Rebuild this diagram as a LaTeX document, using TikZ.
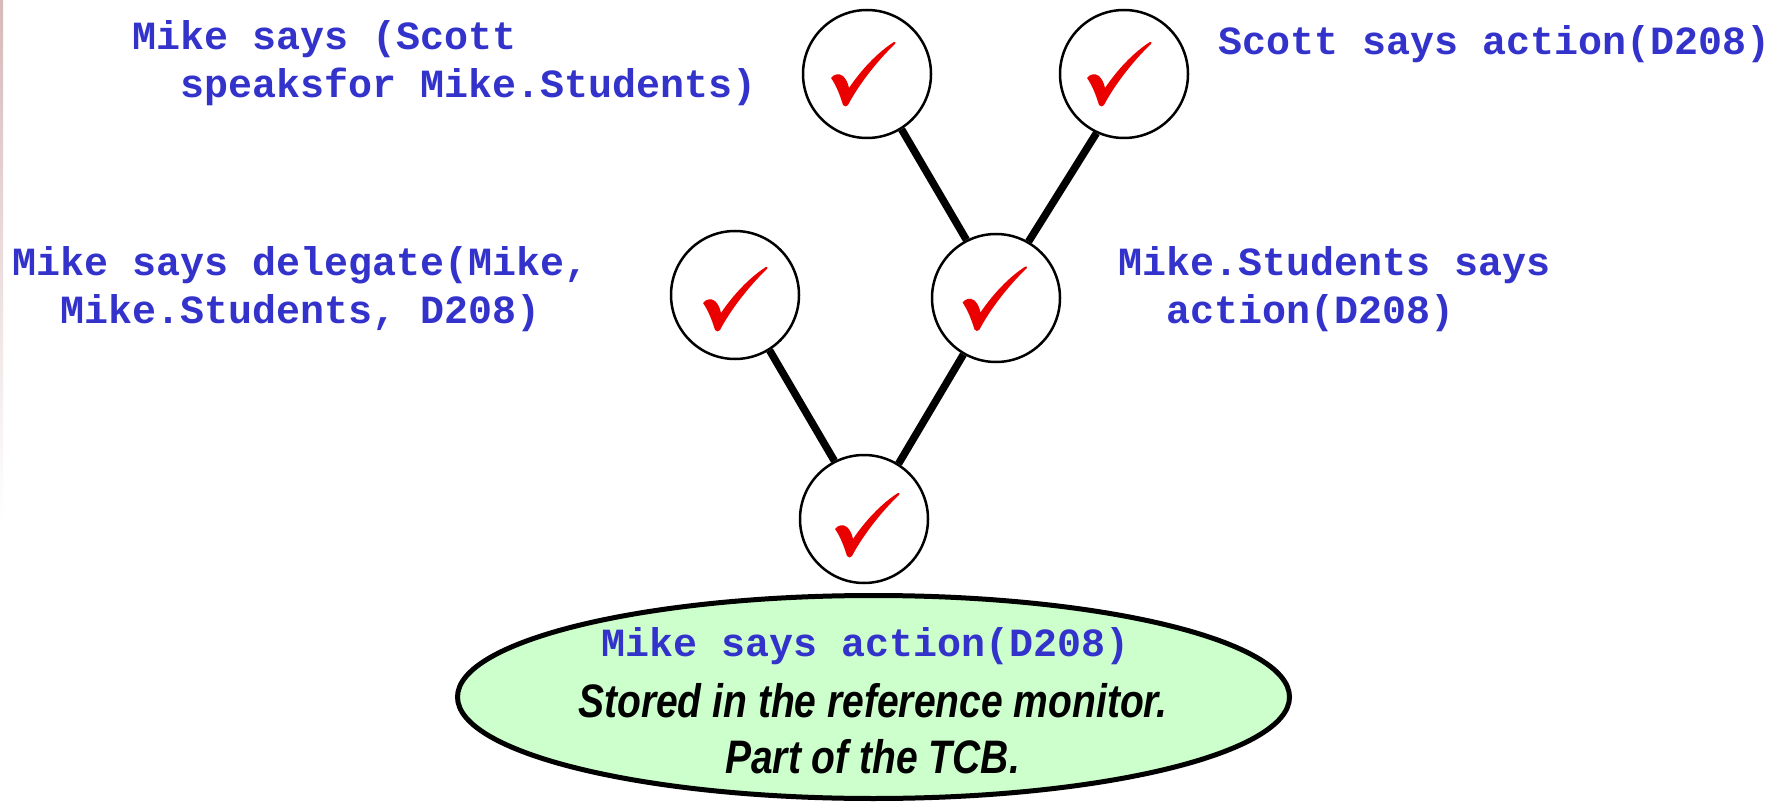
\documentclass[tikz,border=0pt]{standalone}
\usepackage{fontspec}
\usetikzlibrary{shapes.geometric}
\newfontfamily\codefont{Liberation Mono}
\newfontfamily\notefont[FakeStretch=0.83]{Liberation Sans}
\definecolor{codeblue}{RGB}{51,51,204}
\definecolor{tickred}{RGB}{235,0,0}
\definecolor{tcbgreen}{RGB}{204,255,204}
\definecolor{edgepink}{RGB}{215,185,185}
\tikzset{
  proof/.style={circle, draw=black, line width=2.5pt, fill=white,
    minimum size=128pt, inner sep=0pt},
  link/.style={line width=7.5pt, line cap=butt},
  % multi-line statements sit on the baseline of their last line
  code/.style={font=\codefont\bfseries\fontsize{40}{48}\selectfont,
    text=codeblue, inner sep=0pt, anchor=base west, align=left},
  note/.style={font=\notefont\bfseries\itshape\fontsize{47}{56}\selectfont,
    text=black, inner sep=0pt, anchor=base},
  monitor/.style={ellipse, draw=black, line width=5pt, fill=tcbgreen,
    minimum width=832pt, minimum height=203pt, inner sep=0pt},
  tick/.pic={
    \fill[tickred] (0,0) .. controls (3,-4) and (8,-5) .. (12,-2)
      .. controls (15,1) and (17,5) .. (18,10)
      .. controls (30,-8) and (47,-26) .. (63,-36)
      .. controls (64,-36.5) and (65.5,-35.5) .. (64,-34)
      .. controls (45,-16) and (27,8) .. (17,27)
      .. controls (16,29) and (13,29) .. (12,27)
      .. controls (9,17) and (5,7) .. (0,0) -- cycle;
  }
}
\begin{document}
\begin{tikzpicture}[x=1pt, y=-1pt]
  % page area
  \fill[white] (0,0) rectangle (1781,802);
  \useasboundingbox (0,0) rectangle (1781,802);
  \fill[top color=edgepink, bottom color=white] (0,0) rectangle (3,520);

  % proof tree nodes
  \node[proof] (c1) at (867,74)  {};
  \node[proof] (c2) at (1124,74) {};
  \node[proof] (c3) at (735,295) {};
  \node[proof] (c4) at (996,298) {};
  \node[proof] (c5) at (864,519) {};

  % tree edges
  \draw[link] (c1.302.7) -- (c4.117.3);
  \draw[link] (c2.245.4) -- (c4.60.7);
  \draw[link] (c3.302.5) -- (c5.117.8);
  \draw[link] (c4.240)   -- (c5.58.7);

  % check marks
  \pic at ([shift={(-36,4)}]c1)  {tick};
  \pic at ([shift={(-37,4)}]c2)  {tick};
  \pic at ([shift={(-32,8)}]c3)  {tick};
  \pic at ([shift={(-33.5,4.5)}]c4) {tick};
  \pic at ([shift={(-29,10)}]c5) {tick};

  % statements
  \node[code] (lblA) at (132,98) {Mike says (Scott\\\hspace*{1.2em}speaksfor Mike.Students)};
  \node[code] (lblB) at (1218,54.5) {Scott says action(D208)};
  \node[code] (lblC) at (12,324) {Mike says delegate(Mike,\\\hspace*{1.2em}Mike.Students, D208)};
  \node[code] (lblD) at (1118,324) {Mike.Students says\\\hspace*{1.2em}action(D208)};

  % reference monitor
  \node[monitor] (rm) at (873.5,697) {};
  \node[code] (rmA) at (601,656) {Mike says action(D208)};
  \node[note] (rmB) at (873,717) {Stored in the reference monitor.};
  \node[note] (rmC) at (872.5,773) {Part of the TCB.};
\end{tikzpicture}
\end{document}
